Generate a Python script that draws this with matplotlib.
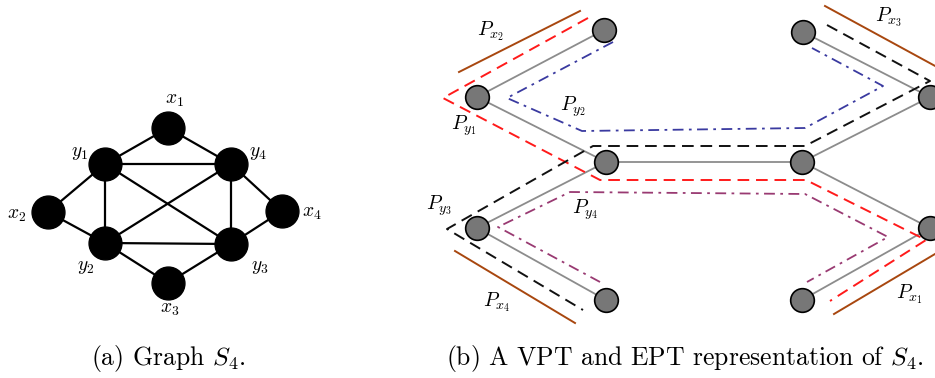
import matplotlib
matplotlib.use('Agg')
import matplotlib.pyplot as plt

plt.rcParams['mathtext.fontset'] = 'cm'

# (a) graph S4, positions (pixel space)
g_names = ['x1', 'y1', 'y4', 'x2', 'x4', 'y2', 'y3', 'x3']
g_x = [168, 105, 231, 48, 282, 105, 231, 168]
g_y = [128, 164, 164, 212, 211, 243, 244, 283]
g_edges = [('x1', 'y1'), ('x1', 'y4'), ('y1', 'y4'), ('y1', 'x2'), ('y1', 'y2'),
           ('y1', 'y3'), ('y4', 'y2'), ('y4', 'y3'), ('y4', 'x4'), ('x2', 'y2'),
           ('y2', 'y3'), ('y2', 'x3'), ('y3', 'x3'), ('y3', 'x4')]
g_lab_x = [174, 80, 258, 17, 312, 86, 260, 170]
g_lab_y = [100, 152, 152, 214, 212, 266, 266, 308]
g_labels = ['$x_1$', '$y_1$', '$y_4$', '$x_2$', '$x_4$', '$y_2$', '$y_3$', '$x_3$']

# (b) host tree
t_x = [604, 477, 606, 802, 930, 803, 477, 606, 930, 802]
t_y = [30, 97, 162, 162, 97, 32, 228, 300, 228, 300]
t_edges = [(0, 1), (1, 2), (2, 3), (3, 4), (4, 5), (2, 6), (6, 7), (3, 8), (8, 9)]

# paths (VPT / EPT)
py1_x = [588, 443, 600, 806, 926, 830]
py1_y = [18, 98, 180, 180, 240, 301]
py2_x = [613, 507, 582, 805, 883, 812]
py2_y = [42, 98, 131, 128, 86, 48]
py3_x = [827, 930, 805, 593, 447, 583]
py3_y = [25, 81, 146, 146, 229, 310]
py4_x = [600, 498, 570, 805, 888, 807]
py4_y = [282, 227, 192, 194, 237, 282]
px2_x, px2_y = [459, 580], [72, 11]
px3_x, px3_y = [825, 937], [6, 67]
px4_x, px4_y = [455, 575], [251, 323]
px1_x, px1_y = [834, 935], [314, 254]

p_labels = ['$P_{x_2}$', '$P_{y_1}$', '$P_{y_2}$', '$P_{x_3}$',
            '$P_{y_3}$', '$P_{y_4}$', '$P_{x_4}$', '$P_{x_1}$']
p_lab_x = [491, 464, 573, 889, 439, 585, 497, 910]
p_lab_y = [31, 126, 107, 17, 206, 210, 302, 294]

fig = plt.figure(figsize=(9.35, 3.78), dpi=100)
ax = fig.add_axes([0, 0, 1, 1])
ax.set_xlim(0, 935)
ax.set_ylim(378, 0)
ax.axis('off')

# graph S4
idx = {n: i for i, n in enumerate(g_names)}
for a, b in g_edges:
    ax.plot([g_x[idx[a]], g_x[idx[b]]], [g_y[idx[a]], g_y[idx[b]]],
            color='black', lw=1.6, zorder=1)
ax.scatter(g_x, g_y, s=560, color='black', zorder=2)
for lx, ly, t in zip(g_lab_x, g_lab_y, g_labels):
    ax.text(lx, ly, t, fontsize=14, ha='center', va='center')

# tree
for a, b in t_edges:
    ax.plot([t_x[a], t_x[b]], [t_y[a], t_y[b]], color='#8c8c8c', lw=1.3, zorder=1)
ax.scatter(t_x, t_y, s=290, color='#777777', edgecolors='black', linewidths=1.2, zorder=3)

dash = (0, (6, 3.5))
dashdot = (0, (6, 3, 1.5, 3))
ax.plot(py1_x, py1_y, color='#ff1a1a', lw=1.4, linestyle=dash, zorder=2)
ax.plot(py3_x, py3_y, color='#111111', lw=1.4, linestyle=dash, zorder=2)
ax.plot(py2_x, py2_y, color='#3a3aa0', lw=1.3, linestyle=dashdot, zorder=2)
ax.plot(py4_x, py4_y, color='#993a72', lw=1.3, linestyle=dashdot, zorder=2)
for xs, ys in [(px2_x, px2_y), (px3_x, px3_y), (px4_x, px4_y), (px1_x, px1_y)]:
    ax.plot(xs, ys, color='#a8470f', lw=1.4, zorder=2)
for lx, ly, t in zip(p_lab_x, p_lab_y, p_labels):
    ax.text(lx, ly, t, fontsize=14.5, ha='center', va='center')

ax.text(168, 358, r'(a) Graph $S_4$.', fontsize=18.5, family='cmr10',
        ha='center', va='center')
ax.text(685, 358, r'(b) A VPT and EPT representation of $S_4$.', fontsize=18.5,
        family='cmr10', ha='center', va='center')

fig.savefig('out.png', dpi=100)
